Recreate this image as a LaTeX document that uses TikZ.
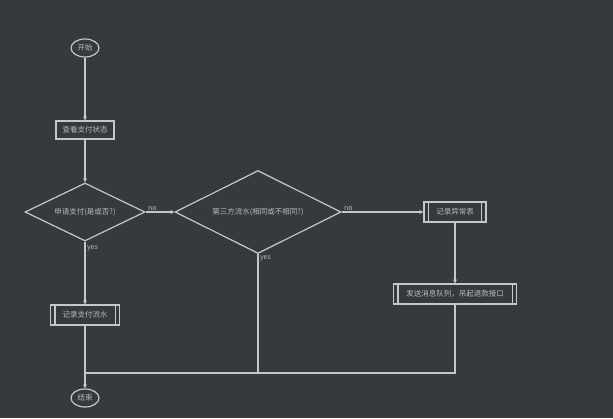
\documentclass[tikz,border=0pt]{standalone}
\usepackage{fontspec}
\setmainfont{Noto Sans CJK SC}
\usetikzlibrary{calc}
\usetikzlibrary{arrows.meta, shapes.geometric}

\definecolor{bgcol}{HTML}{363A3F}
\definecolor{linecol}{HTML}{C4C7CB}
\definecolor{txtcol}{HTML}{B8BBBF}

\tikzset{
    base/.style={draw=linecol, line width=1.2pt, text=txtcol, font=\fontsize{7.5}{9}\selectfont, inner sep=0pt},
    terminal/.style={base, ellipse, minimum width=28pt, minimum height=18pt},
    procbox/.style={base, rectangle, minimum height=18pt},
    decision/.style={base, diamond, aspect=2},
    predef/.style={base, rectangle, minimum height=20pt},
    flow/.style={draw=linecol, line width=1.2pt, -{Stealth[length=4pt, width=4pt]}},
    plainline/.style={draw=linecol, line width=1.2pt},
    lbl/.style={text=txtcol, font=\fontsize{7}{8}\selectfont, inner sep=1pt}
}

\begin{document}
\begin{tikzpicture}[x=1pt, y=-1pt]
    \def\colA{85}; % left column x coordinate
    \def\colB{258}; % middle column x coordinate
    \def\colC{455}; % right column x coordinate
    \def\rowD{212}; % decision row y coordinate
    \def\rowJ{373}; % joining line y coordinate

    % background %%%%%%%%%%%%%%%%%%%%%%%%%%%%%%%%%%%%%%%%%%%%%%%%%%%%%%%%%%%%%%%%%%
    \fill[bgcol] (0,0) rectangle (613,418);
    \useasboundingbox (0,0) rectangle (613,418);

    % nodes %%%%%%%%%%%%%%%%%%%%%%%%%%%%%%%%%%%%%%%%%%%%%%%%%%%%%%%%%%%%%%%%%%%%%%%
    \node[terminal] (start) at (\colA, 48) {开始};
    \node[procbox, minimum width=58pt] (check) at (\colA, 130) {查看支付状态};
    \node[decision, minimum width=120pt, minimum height=58pt] (apply) at (\colA, \rowD) {申请支付(是或否?)};
    \node[decision, minimum width=166pt, minimum height=83pt] (third) at (\colB, \rowD) {第三方流水(相同或不相同?)};
    \node[predef, minimum width=62pt] (errlog) at (\colC, \rowD) {记录异常表};
    \node[predef, minimum width=123pt] (refund) at (\colC, 294) {发送消息队列，吊起退款接口};
    \node[predef, minimum width=69pt] (paylog) at (\colA, 315) {记录支付流水};
    \node[terminal] (stop) at (\colA, 398) {结束};

    % inner sides of the predefined boxes
    \foreach \n in {errlog, refund, paylog}{
      \draw[plainline] ($(\n.north west)+(5pt,0)$) -- ($(\n.south west)+(5pt,0)$);
      \draw[plainline] ($(\n.north east)+(-5pt,0)$) -- ($(\n.south east)+(-5pt,0)$);
    }

    % connectors %%%%%%%%%%%%%%%%%%%%%%%%%%%%%%%%%%%%%%%%%%%%%%%%%%%%%%%%%%%%%%%%%%%
    \coordinate (merge) at (\colA, \rowJ);
    \draw[flow] (start) -- (check);
    \draw[flow] (check) -- (apply);
    \draw[flow] (apply.east) -- node[lbl, pos=0, anchor=south west, xshift=1pt] {no} (third.west);
    \draw[flow] (third.east) -- node[lbl, pos=0, anchor=south west, xshift=1pt] {no} (errlog.west);
    \draw[flow] (errlog) -- (refund);
    \draw[flow] (apply.south) -- node[lbl, pos=0, anchor=north west, xshift=0.5pt, yshift=-2pt] {yes} (paylog.north);
    \draw[flow] (paylog) -- (stop);
    \draw[plainline] (third.south) -- node[lbl, pos=0, anchor=north west, xshift=0.5pt] {yes} (third.south |- merge);
    \draw[plainline] (refund.south) |- (merge);
\end{tikzpicture}
\end{document}
